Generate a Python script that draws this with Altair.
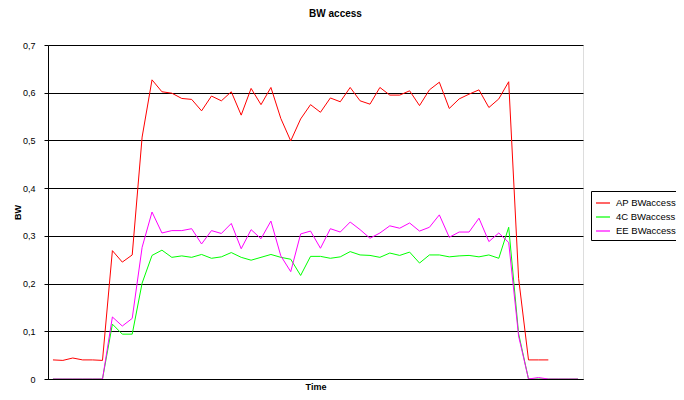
import altair as alt
import pandas as pd

series_names = ["AP BWaccess", "4C BWaccess", "EE BWaccess"]
series_colors = ["#FF0000", "#00FF00", "#FF00FF"]

ap = [0.040, 0.039, 0.044, 0.040, 0.040, 0.039, 0.269, 0.245, 0.260, 0.507,
      0.627, 0.602, 0.599, 0.588, 0.586, 0.562, 0.593, 0.583, 0.602, 0.553,
      0.609, 0.575, 0.611, 0.546, 0.499, 0.545, 0.575, 0.559, 0.589, 0.581,
      0.611, 0.583, 0.576, 0.611, 0.595, 0.595, 0.604, 0.573, 0.606, 0.622,
      0.567, 0.587, 0.597, 0.606, 0.569, 0.587, 0.623, 0.211, 0.040, 0.040, 0.040]

c4 = [0, 0, 0, 0, 0, 0, 0.115, 0.094, 0.094, 0.201,
      0.259, 0.270, 0.255, 0.258, 0.255, 0.261, 0.253, 0.256, 0.265, 0.255,
      0.249, 0.255, 0.261, 0.255, 0.251, 0.217, 0.257, 0.257, 0.253, 0.256,
      0.267, 0.260, 0.259, 0.255, 0.264, 0.259, 0.266, 0.243, 0.260, 0.260,
      0.256, 0.258, 0.259, 0.256, 0.260, 0.253, 0.318, 0.095, 0, 0,
      0, 0, 0, 0]

ee = [0, 0, 0, 0, 0, 0, 0.130, 0.111, 0.127, 0.276,
      0.350, 0.306, 0.311, 0.311, 0.315, 0.283, 0.311, 0.305, 0.326, 0.273,
      0.313, 0.294, 0.331, 0.258, 0.225, 0.304, 0.310, 0.274, 0.315, 0.308,
      0.329, 0.313, 0.295, 0.306, 0.321, 0.316, 0.327, 0.310, 0.318, 0.344,
      0.297, 0.308, 0.308, 0.337, 0.288, 0.306, 0.286, 0.090, 0, 0.003,
      0, 0, 0, 0]

n_categories = 54
y_ticks = [0, 0.1, 0.2, 0.3, 0.4, 0.5, 0.6, 0.7]

rows = []
for name, vals in zip(series_names, [ap, c4, ee]):
    for i, v in enumerate(vals):
        rows.append({"t": i, "bw": v, "series": name})
df = pd.DataFrame(rows)

FONT = "Liberation Sans"

chart = alt.Chart(df).mark_line(strokeWidth=1, clip=True).encode(
    x=alt.X("t:Q",
            scale=alt.Scale(domain=[-0.5, n_categories - 0.5], nice=False, zero=False),
            axis=alt.Axis(title="Time", labels=False, ticks=False, grid=False,
                          domainColor="black", titleFont=FONT, titleFontSize=9,
                          titleFontWeight="bold", titleY=10, titleBaseline="alphabetic")),
    y=alt.Y("bw:Q",
            scale=alt.Scale(domain=[0, 0.7], nice=False),
            axis=alt.Axis(title="BW", values=y_ticks, grid=True, gridColor="black",
                          gridWidth=1, domainColor="black", tickColor="black",
                          tickSize=4, labelPadding=9, labelFont=FONT, labelFontSize=9,
                          labelColor="black",
                          labelExpr="datum.value == 0 ? '0' : replace(format(datum.value, '.1f'), '.', ',')",
                          titleFont=FONT, titleFontSize=9, titleFontWeight="bold",
                          titleX=-31, titleY=167, titleAngle=270,
                          titleAlign="center", titleBaseline="middle")),
    color=alt.Color("series:N",
                    scale=alt.Scale(domain=series_names, range=series_colors),
                    legend=alt.Legend(title=None, orient="none", legendX=543, legendY=146,
                                      strokeColor="black", fillColor="white", padding=4,
                                      symbolType="stroke", symbolSize=196,
                                      symbolStrokeWidth=1.2, labelFont=FONT,
                                      labelFontSize=9.5, labelColor="black",
                                      labelOffset=5, rowPadding=1)),
).properties(
    width=535,
    height=334,
    title=alt.TitleParams("BW access", font=FONT, fontSize=10, fontWeight="bold",
                          color="black", anchor="middle", dx=20, offset=22),
    autosize=alt.AutoSizeParams(type="none"),
    padding={"left": 40, "top": 37, "right": 93, "bottom": 13},
).configure_view(
    stroke="#808080", strokeWidth=1
).configure(background="white")

chart.save("out.html", embed_options={"renderer": "svg", "actions": False})
